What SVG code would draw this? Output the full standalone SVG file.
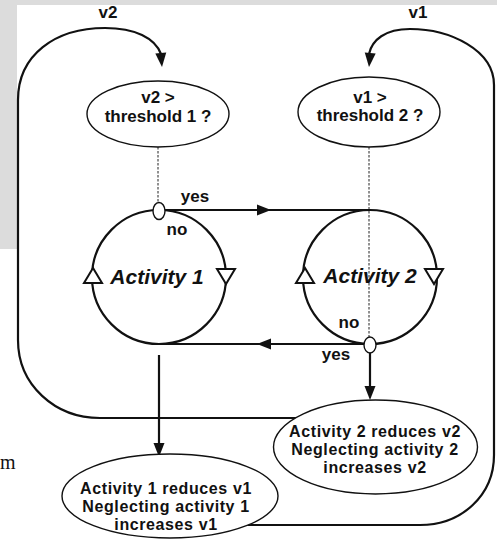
<svg xmlns="http://www.w3.org/2000/svg" xmlns:xlink="http://www.w3.org/1999/xlink" width="497" height="550" viewBox="0 0 497 550">
  <style>
    .ln { fill: none; stroke: #111; stroke-width: 2.2; }
    .dash { fill: none; stroke: #222; stroke-width: 1; stroke-dasharray: 2.5 1.5; }
    .node { fill: #fff; stroke: #111; stroke-width: 1.4; }
    .ring { fill: none; stroke: #111; stroke-width: 2.2; }
    .tri { fill: #fff; stroke: #111; stroke-width: 2; stroke-linejoin: miter; }
    .jn { fill: #fff; stroke: #111; stroke-width: 1.4; }
    .t { font-family: "Liberation Sans", Arial, sans-serif; font-weight: bold; font-size: 17px; fill: #111; text-anchor: middle; }
    .t3 { font-family: "Liberation Sans", Arial, sans-serif; font-weight: bold; font-size: 16px; letter-spacing: 0.6px; fill: #111; text-anchor: middle; }
    .act { font-family: "Liberation Sans", Arial, sans-serif; font-weight: bold; font-style: italic; font-size: 21px; fill: #111; text-anchor: middle; }
  </style>
  <defs>
    <path id="ah" d="M0,0 L-14,-5.5 L-14,5.5 Z" fill="#111"/>
  </defs>

  <!-- page margin -->
  <rect x="0" y="0" width="497" height="550" fill="#fff"/>
  <path d="M0,0 H497 V5 H17 V249 H0 Z" fill="#dcdcdc"/>
  <text x="0" y="469" font-family="Liberation Serif, serif" font-size="20" fill="#111">m</text>

  <!-- connectors -->
  <g id="connectors">
    <!-- v2 feedback loop -->
    <path class="ln" d="M300,418 H100 C55,418 18,385 18,340 V100 C18,55 55,28 105,28 C135,28 155,38 161,54"/>
    <use xlink:href="#ah" transform="translate(162,67) rotate(85)"/>
    <!-- v1 feedback loop -->
    <path class="ln" d="M230,525 H420 C462,525 494,495 494,455 V85 C494,50 450,29 410,29 C385,29 372,40 369,54"/>
    <use xlink:href="#ah" transform="translate(369,67) rotate(95)"/>
    <!-- decision dashes -->
    <line class="dash" x1="158" y1="147" x2="158" y2="204"/>
    <line class="dash" x1="369" y1="147" x2="369" y2="337"/>
    <!-- yes branches -->
    <line class="ln" x1="159" y1="210" x2="370" y2="210"/>
    <use xlink:href="#ah" transform="translate(271,210)"/>
    <line class="ln" x1="370" y1="344" x2="159" y2="344"/>
    <use xlink:href="#ah" transform="translate(257,344) rotate(180)"/>
    <!-- outputs -->
    <line class="ln" x1="159" y1="355" x2="159" y2="445"/>
    <use xlink:href="#ah" transform="translate(159,457) rotate(90)"/>
    <line class="ln" x1="370" y1="353" x2="370" y2="388"/>
    <use xlink:href="#ah" transform="translate(370,400) rotate(90)"/>
  </g>

  <g id="test1">
    <ellipse class="node" cx="158" cy="114" rx="71" ry="33"/>
    <text class="t" x="158" y="103">v2 &gt;</text>
    <text class="t" x="158" y="122">threshold 1 ?</text>
  </g>
  <g id="test2">
    <ellipse class="node" cx="369" cy="112" rx="71" ry="35"/>
    <text class="t" x="370" y="103">v1 &gt;</text>
    <text class="t" x="370" y="121">threshold 2 ?</text>
  </g>

  <g id="activity1">
    <circle class="ring" cx="159" cy="277" r="67"/>
    <polygon class="tri" points="93,268 84,283 102,283"/>
    <polygon class="tri" points="217,269 235,269 226,284"/>
    <text class="act" x="157" y="284">Activity 1</text>
  </g>
  <g id="activity2">
    <circle class="ring" cx="370" cy="277" r="67"/>
    <polygon class="tri" points="305,268 296,283 314,283"/>
    <polygon class="tri" points="425,269 443,269 434,284"/>
    <text class="act" x="370" y="283">Activity 2</text>
  </g>

  <g id="junction1">
    <ellipse class="jn" cx="159" cy="211" rx="6" ry="8.5"/>
  </g>
  <g id="junction2">
    <ellipse class="jn" cx="370" cy="345" rx="6" ry="8"/>
  </g>

  <g id="labels">
    <text class="t" x="108" y="18">v2</text>
    <text class="t" x="418" y="18">v1</text>
    <text class="t" x="195" y="202">yes</text>
    <text class="t" x="177" y="235">no</text>
    <text class="t" x="349" y="328">no</text>
    <text class="t" x="336" y="360">yes</text>
  </g>

  <g id="effect2">
    <ellipse class="node" cx="375.5" cy="447" rx="102" ry="47"/>
    <text class="t3" x="375" y="437">Activity 2 reduces v2</text>
    <text class="t3" x="375" y="455">Neglecting activity 2</text>
    <text class="t3" x="375" y="473">increases v2</text>
  </g>
  <g id="effect1">
    <ellipse class="node" cx="170" cy="496" rx="108" ry="42"/>
    <text class="t3" x="166" y="494">Activity 1 reduces v1</text>
    <text class="t3" x="166" y="512">Neglecting activity 1</text>
    <text class="t3" x="166" y="530">increases v1</text>
  </g>
</svg>
